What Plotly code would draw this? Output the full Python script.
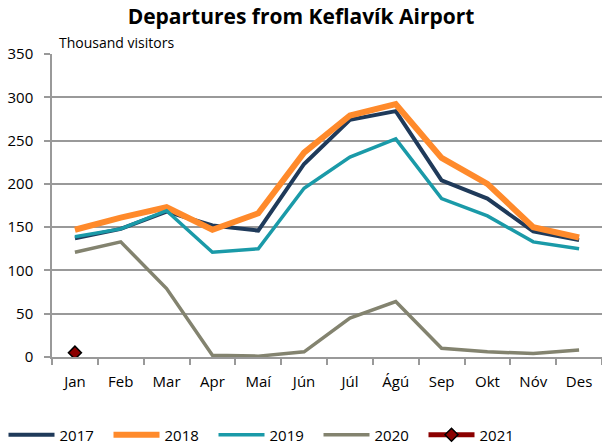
import plotly.graph_objects as go

months = ["Jan", "Feb", "Mar", "Apr", "Maí", "Jún", "Júl", "Ágú", "Sep", "Okt", "Nóv", "Des"]
v2017 = [137, 148, 168, 152, 146, 223, 274, 284, 204, 183, 145, 135]
v2018 = [147, 161, 173, 147, 166, 236, 279, 292, 230, 200, 150, 138]
v2019 = [139, 148, 169, 121, 125, 195, 231, 252, 183, 163, 133, 125]
v2020 = [121, 133, 79, 2, 1, 6, 45, 64, 10, 6, 4, 8]
v2021 = [5]
yticks = [0, 50, 100, 150, 200, 250, 300, 350]

FONT = "Open Sans"

fig = go.Figure()
fig.add_trace(go.Scatter(x=months, y=v2017, name="2017", mode="lines",
                         line=dict(color="#1F3A5A", width=4)))
fig.add_trace(go.Scatter(x=months, y=v2018, name="2018", mode="lines",
                         line=dict(color="#FF8A2B", width=6)))
fig.add_trace(go.Scatter(x=months, y=v2019, name="2019", mode="lines",
                         line=dict(color="#1A9AA8", width=3.5)))
fig.add_trace(go.Scatter(x=months, y=v2020, name="2020", mode="lines",
                         line=dict(color="#83836F", width=3.5)))
fig.add_trace(go.Scatter(x=months[:1], y=v2021, name="2021", mode="lines+markers",
                         line=dict(color="#8B0000", width=5),
                         marker=dict(symbol="diamond", size=10, color="#8B0000",
                                     line=dict(color="black", width=1.5))))

fig.update_layout(
    width=602, height=447,
    margin=dict(l=52, r=0, t=54, b=90),
    paper_bgcolor="white", plot_bgcolor="white",
    font=dict(family=FONT, color="black", size=14),
    title=dict(text="<b>Departures from Keflavík Airport</b>", x=0.5, xanchor="center",
               y=0.962, yanchor="middle", font=dict(size=21, family=FONT)),
    showlegend=True,
    legend=dict(orientation="h", x=266 / 602, xanchor="center", xref="container",
                y=1 - 435 / 447, yanchor="middle", yref="container",
                font=dict(size=15), itemwidth=46, traceorder="normal",
                entrywidth=44, entrywidthmode="pixels"),
    annotations=[dict(text="Thousand visitors", x=5 / 550, xref="paper", y=1.0, yref="paper",
                      xanchor="left", yanchor="bottom", showarrow=False,
                      font=dict(size=14, family=FONT))],
)
fig.update_xaxes(type="category", tickson="boundaries", ticks="outside", ticklen=6,
                 tickcolor="#999999", tickwidth=1.5, showline=True, linecolor="#999999",
                 linewidth=1.5, showgrid=False, tickfont=dict(size=15), range=[-0.5, 11.5],
                 ticklabelstandoff=10)
fig.update_yaxes(range=[0, 350], tickvals=yticks, showgrid=True, gridcolor="#999999",
                 gridwidth=1.5, showline=True, linecolor="#999999", linewidth=1.5,
                 ticks="outside", ticklen=6, tickcolor="#999999", tickwidth=1.5,
                 tickfont=dict(size=15), zeroline=False, ticklabelstandoff=8)

fig.write_html("out.html", post_script="document.body.style.margin='0px';",
               config={"displayModeBar": False})
